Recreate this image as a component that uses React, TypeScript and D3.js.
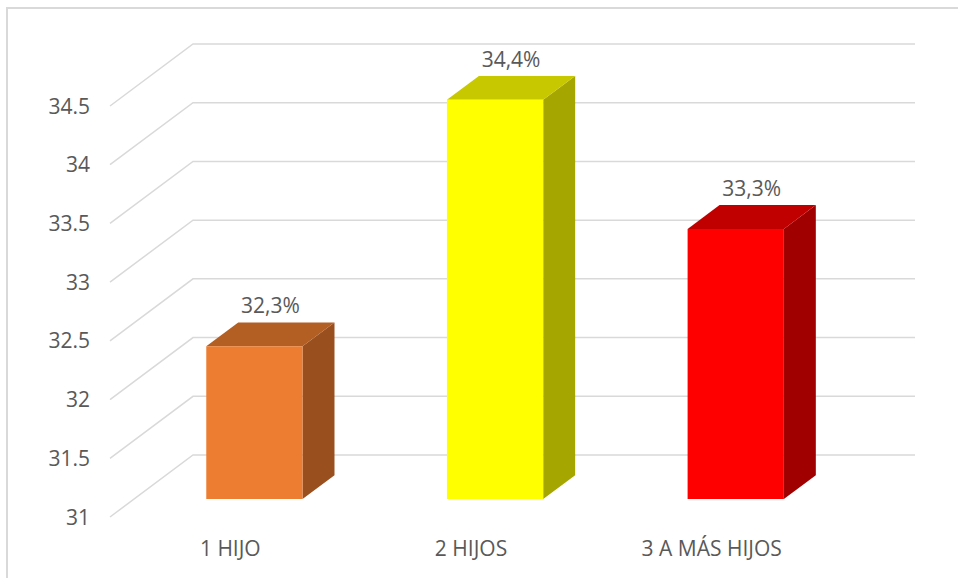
import React from 'react';
import * as d3 from 'd3';

// data
const categories = ['1 HIJO', '2 HIJOS', '3 A MÁS HIJOS'];
const values = [32.3, 34.4, 33.3];
const valueLabels = ['32,3%', '34,4%', '33,3%'];
const yTicks = [31, 31.5, 32, 32.5, 33, 33.5, 34, 34.5];
const frontColors = ['#ED7D31', '#FFFF00', '#FF0000'];
const topColors = ['#B35E22', '#C8C800', '#C00000'];
const sideColors = ['#9A4F1E', '#A6A600', '#A00000'];

const W = 958;
const H = 578;
// depth of the 3D box (front plane -> back wall)
const DX = 83;
const DY = 62;
// bars occupy this part of the depth
const Z0 = 0.29;
const Z1 = 0.675;

const FONT = '"Open Sans", sans-serif';
const FS = 21;
const TEXT = '#595959';
const GRID = '#D9D9D9';

const App = () => {
  const y = d3.scaleLinear().domain([31, 34.5]).range([517, 106]);
  const x = d3.scaleBand<string>().domain(categories).range([110, 832]).paddingInner(0.6).paddingOuter(0.3);
  const bw = x.bandwidth();

  // project (front-plane x, value, depth z) to screen
  const px = (fx: number, z: number) => fx + z * DX;
  const py = (v: number, z: number) => y(v) - z * DY;

  const pts = (arr: [number, number][]) => arr.map(p => p.join(',')).join(' ');

  return (
    <svg width={W} height={H} style={{ position: 'absolute', left: 0, top: 0, background: '#fff' }}>
      <rect x={7} y={8} width={W} height={H} fill="#fff" stroke={GRID} strokeWidth={2} />

      {/* grid lines: floor-side diagonal then back wall */}
      {yTicks.map(t => (
        <polyline
          key={t}
          points={pts([[110, y(t)], [px(110, 1), py(t, 1)], [px(832, 1), py(t, 1)]])}
          fill="none"
          stroke={GRID}
          strokeWidth={1.5}
        />
      ))}

      {yTicks.map(t => (
        <text key={'l' + t} x={90} y={y(t) + 2} textAnchor="end" dominantBaseline="middle"
          fontFamily={FONT} fontSize={FS} fill={TEXT}>{t}</text>
      ))}

      {categories.map((c, i) => {
        const x0 = x(c) as number;
        const x1 = x0 + bw;
        const v = values[i];
        const base = 31;
        const front: [number, number][] = [[px(x0, Z0), py(base, Z0)], [px(x1, Z0), py(base, Z0)], [px(x1, Z0), py(v, Z0)], [px(x0, Z0), py(v, Z0)]];
        const top: [number, number][] = [[px(x0, Z0), py(v, Z0)], [px(x1, Z0), py(v, Z0)], [px(x1, Z1), py(v, Z1)], [px(x0, Z1), py(v, Z1)]];
        const side: [number, number][] = [[px(x1, Z0), py(base, Z0)], [px(x1, Z1), py(base, Z1)], [px(x1, Z1), py(v, Z1)], [px(x1, Z0), py(v, Z0)]];
        const zm = (Z0 + Z1) / 2;
        return (
          <g key={c}>
            <polygon points={pts(side)} fill={sideColors[i]} />
            <polygon points={pts(top)} fill={topColors[i]} />
            <polygon points={pts(front)} fill={frontColors[i]} />
            <text x={px(x0 + bw / 2, zm)} y={py(v, Z1) - 9} textAnchor="middle"
              fontFamily={FONT} fontSize={FS} fill={TEXT}>{valueLabels[i]}</text>
            <text x={x0 + bw / 2} y={550} textAnchor="middle" dominantBaseline="middle"
              fontFamily={FONT} fontSize={FS} fill={TEXT}>{c}</text>
          </g>
        );
      })}
    </svg>
  );
};

export default App;
